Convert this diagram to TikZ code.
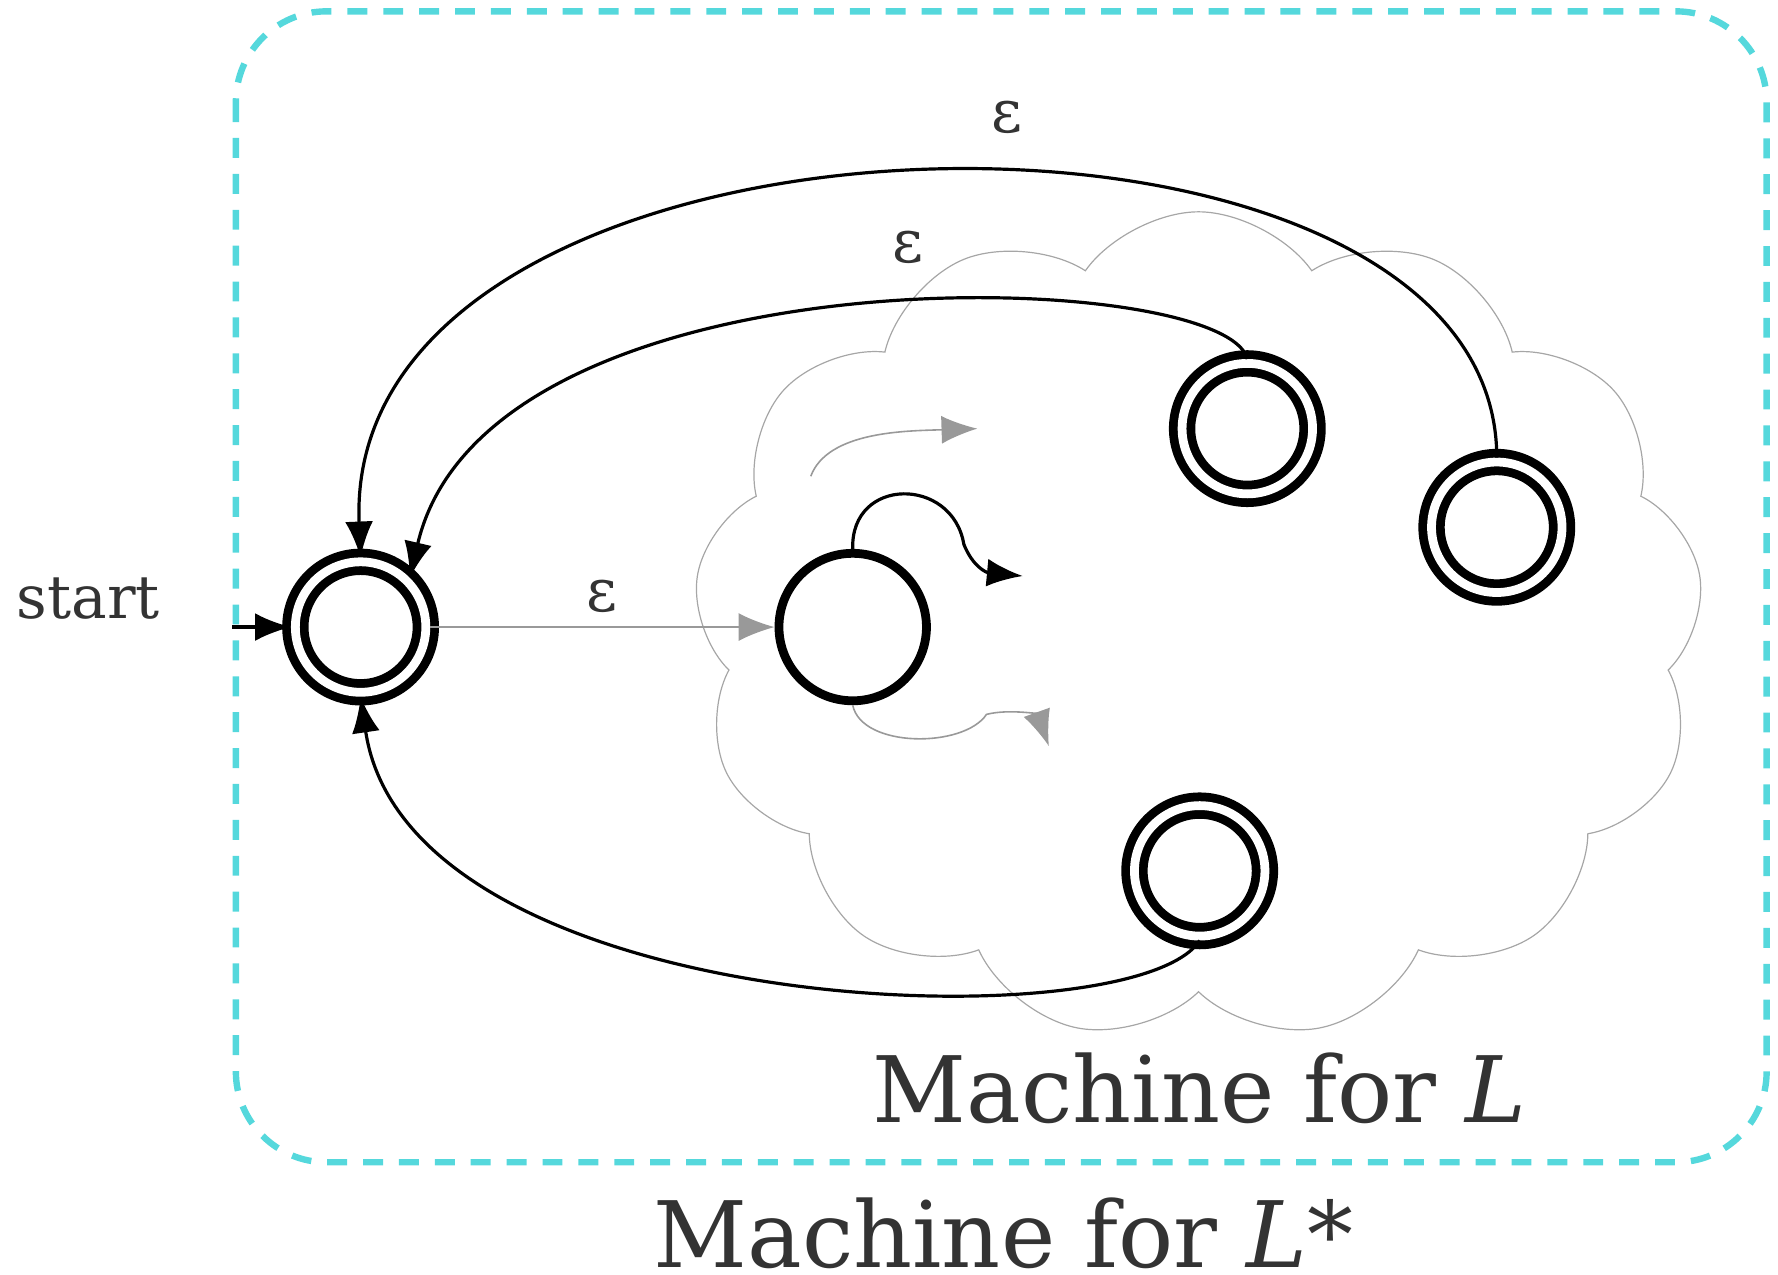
\documentclass[tikz,border=0pt]{standalone}
\usepackage{fontspec}
\setmainfont{DejaVu Serif}
\usetikzlibrary{arrows.meta, shapes.symbols}
\definecolor{boxcyan}{HTML}{55D8DC}
\definecolor{txt}{HTML}{333333}
\begin{document}
\begin{tikzpicture}[>={Latex[length=9pt,width=7pt]},x=0.01cm,y=-0.01cm,
  state/.style={circle,draw,line width=2.2pt,minimum size=1.3cm,inner sep=0pt},
  accept/.style={state,double,double distance=2.2pt,minimum size=1.15cm},
  lbl/.style={text=txt,font=\fontsize{19}{22}\selectfont},
  eps/.style={text=txt,font=\fontsize{15}{18}\selectfont}]
  \useasboundingbox (0,0) rectangle (1568,1124);

  \node[cloud,draw=black!35,line width=0.3pt,cloud puffs=13,cloud puff arc=110,
    aspect=1.2,minimum width=8.9cm,minimum height=7.3cm] (cloud) at (1057,552) {};
  \draw[boxcyan,line width=1.6pt,dash pattern=on 5pt off 4pt,rounded corners=0.8cm]
    (208,10) rectangle (1558,1025);

  \node[accept] (s) at (318,553) {};
  \node[state] (q0) at (752,553) {};
  \node[accept] (f1) at (1100,378) {};
  \node[accept] (f2) at (1320,465) {};
  \node[accept] (f3) at (1058,768) {};

  \node[lbl,font=\fontsize{15}{18}\selectfont] (start) at (78,528) {start};
  \coordinate (in) at (205,553);
  \draw[->,thick] (in) -- (s);
  \draw[->,black!40] (s) -- node[eps,above] {ε} (q0);

  % transitions inside L
  \coordinate (o1) at (902,508);
  \coordinate (o2) at (862,378);
  \coordinate (o3) at (925,658);
  \draw[->,thick] (q0.north) .. controls (750,420) and (840,420) .. (850,480)
    .. controls (858,500) and (870,505) .. (o1);
  \draw[->,black!40] (715,420) .. controls (730,380) and (800,380) .. (o2);
  \draw[->,black!40] (q0.south) .. controls (760,660) and (850,660) .. (870,630)
    .. controls (890,625) and (915,630) .. (o3);

  % epsilon loops back
  \draw[->,thick] (f1.north) .. controls (1080,235) and (430,215) .. (s.north east)
    node[eps,pos=0.45,above=6pt] {ε};
  \draw[->,thick] (f2.north) .. controls (1320,45) and (300,65) .. (s.north)
    node[eps,pos=0.45,above=6pt] {ε};
  \draw[->,thick] (f3.south) .. controls (1000,920) and (360,900) .. (s.south);

  \node[lbl,font=\fontsize{23}{26}\selectfont] (mL) at (1058,960) {Machine for \textit{L}};
  \node[lbl,font=\fontsize{23}{26}\selectfont] (mLs) at (885,1088) {Machine for \textit{L}*};
\end{tikzpicture}
\end{document}
